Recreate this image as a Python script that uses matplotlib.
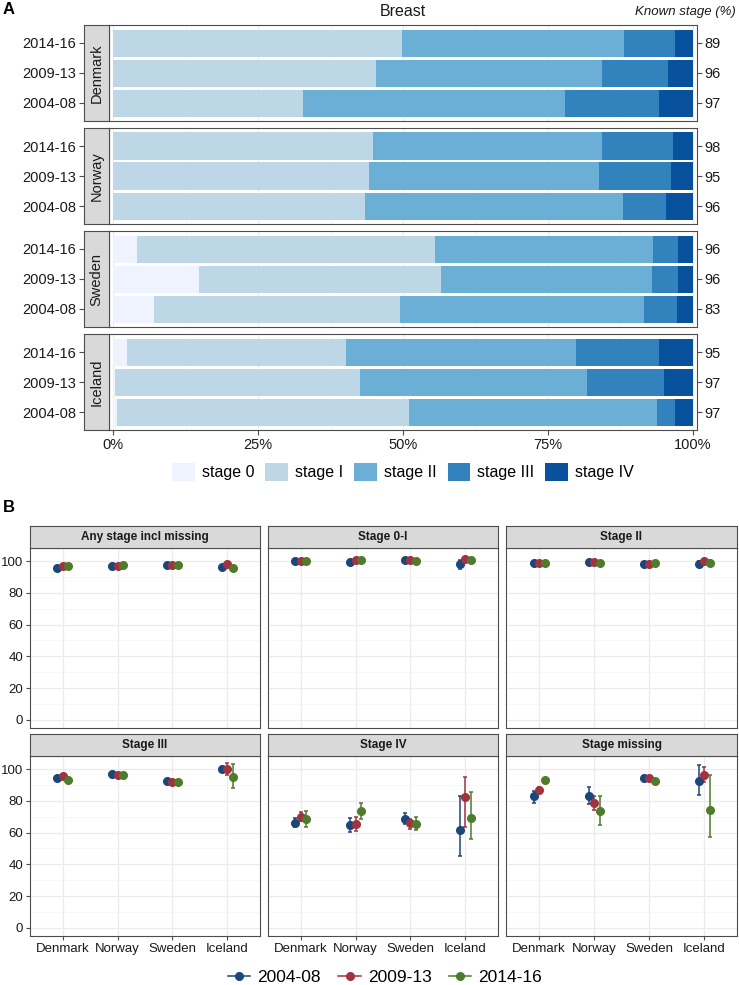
import numpy as np
import matplotlib
matplotlib.use('Agg')
import matplotlib.pyplot as plt
from matplotlib.patches import Patch
from matplotlib.lines import Line2D

plt.rcParams['font.family'] = ['Liberation Sans', 'DejaVu Sans']

W, H = 739, 985

years = ['2004-08', '2009-13', '2014-16']
countries = ['Denmark', 'Norway', 'Sweden', 'Iceland']
stages = ['stage 0', 'stage I', 'stage II', 'stage III', 'stage IV']
blues = ['#EFF3FF', '#BDD7E7', '#6BAED6', '#3182BD', '#08519C']

# panel A: stage distribution (%), rows = years 2004-08, 2009-13, 2014-16
denmark_share = [[0.0, 32.7, 45.2, 16.2, 5.9],
                 [0.0, 45.3, 39.0, 11.4, 4.3],
                 [0.0, 49.8, 38.3, 8.8, 3.1]]
norway_share = [[0.0, 43.4, 44.5, 7.5, 4.6],
                [0.0, 44.2, 39.6, 12.5, 3.7],
                [0.0, 44.9, 39.4, 12.2, 3.5]]
sweden_share = [[7.1, 42.4, 42.1, 5.6, 2.8],
                [14.8, 41.8, 36.4, 4.4, 2.6],
                [4.2, 51.3, 37.6, 4.3, 2.6]]
iceland_share = [[0.6, 50.5, 42.7, 3.1, 3.1],
                 [0.3, 42.2, 39.3, 13.2, 5.0],
                 [2.4, 37.7, 39.7, 14.3, 5.9]]
known_stage = {'Denmark': [97, 96, 89], 'Norway': [96, 95, 98],
               'Sweden': [83, 96, 96], 'Iceland': [97, 97, 95]}
shares = {'Denmark': denmark_share, 'Norway': norway_share,
          'Sweden': sweden_share, 'Iceland': iceland_share}

# panel B: estimate, lower, upper per country (rows) and period (cols)
facets = ['Any stage incl missing', 'Stage 0-I', 'Stage II',
          'Stage III', 'Stage IV', 'Stage missing']
any_est = [[95.4, 96.6, 96.8], [96.6, 96.6, 97.5], [97.3, 97.5, 97.7], [96.4, 98.3, 95.6]]
any_lo = [[94.9, 96.1, 96.3], [96.0, 96.0, 96.9], [97.0, 97.2, 97.4], [95.0, 97.0, 94.2]]
any_hi = [[95.9, 97.1, 97.3], [97.2, 97.2, 98.1], [97.6, 97.8, 98.0], [97.8, 99.6, 97.0]]
s0i_est = [[99.8, 100.0, 99.8], [99.6, 100.6, 100.6], [100.4, 100.4, 100.2], [97.9, 101.5, 100.4]]
s0i_lo = [[99.4, 99.6, 99.4], [99.1, 100.1, 100.2], [100.1, 100.1, 99.9], [95.0, 100.5, 99.5]]
s0i_hi = [[100.2, 100.4, 100.2], [100.1, 101.1, 101.0], [100.7, 100.7, 100.5], [100.5, 102.5, 101.3]]
s2_est = [[98.7, 98.9, 98.9], [99.2, 99.2, 98.7], [98.3, 98.3, 98.5], [98.3, 99.8, 98.7]]
s2_lo = [[98.2, 98.4, 98.4], [98.7, 98.7, 98.2], [97.9, 97.9, 98.1], [96.6, 98.6, 96.7]]
s2_hi = [[99.2, 99.4, 99.4], [99.7, 99.7, 99.2], [98.7, 98.7, 98.9], [100.0, 101.0, 100.7]]
s3_est = [[94.1, 95.8, 93.3], [96.8, 96.2, 96.2], [92.6, 92.0, 92.0], [100.0, 100.0, 95.2]]
s3_lo = [[93.0, 94.6, 92.3], [95.8, 95.1, 95.1], [91.6, 90.9, 90.9], [98.5, 96.4, 88.0]]
s3_hi = [[95.2, 97.0, 94.3], [97.8, 97.3, 97.3], [93.6, 93.1, 93.1], [101.5, 103.6, 103.2]]
s4_est = [[66.3, 70.1, 68.4], [64.6, 65.3, 73.3], [68.4, 65.9, 65.5], [61.5, 82.1, 69.1]]
s4_lo = [[63.8, 67.4, 63.6], [60.6, 61.1, 68.4], [65.1, 62.1, 61.7], [45.3, 63.2, 56.2]]
s4_hi = [[69.1, 73.1, 73.3], [69.1, 69.9, 78.3], [72.2, 68.8, 69.7], [82.9, 95.2, 85.3]]
miss_est = [[82.7, 86.7, 92.8], [83.2, 78.9, 73.5], [94.3, 94.1, 92.2], [92.6, 96.4, 74.3]]
miss_lo = [[78.5, 84.6, 91.8], [77.9, 74.3, 64.8], [93.2, 93.1, 90.5], [83.6, 92.0, 57.5]]
miss_hi = [[86.3, 88.8, 93.9], [88.4, 83.2, 82.7], [95.4, 95.1, 93.9], [102.7, 101.1, 96.0]]
facet_data = [(any_est, any_lo, any_hi), (s0i_est, s0i_lo, s0i_hi), (s2_est, s2_lo, s2_hi),
              (s3_est, s3_lo, s3_hi), (s4_est, s4_lo, s4_hi), (miss_est, miss_lo, miss_hi)]
period_colors = ['#1B4679', '#A3323F', '#4E7B2C']

TXT = '#1a1a1a'
BORDER = '#4d4d4d'


def box(x0, y0, x1, y1):
    return [x0 / W, 1 - y1 / H, (x1 - x0) / W, (y1 - y0) / H]


fig = plt.figure(figsize=(W / 100, H / 100), dpi=100)

# ---------- panel A ----------
ypos = np.array([1, 2, 3])
tops = [25, 128, 231, 334]
for i, c in enumerate(countries):
    t = tops[i]
    b = t + 96
    ax = fig.add_axes(box(109, t, 697, b))
    sax = fig.add_axes(box(84, t, 109, b))
    for v in [0, 25, 50, 75, 100]:
        ax.axvline(v, color='#EBEBEB', lw=0.8, zorder=0)
    for v in [12.5, 37.5, 62.5, 87.5]:
        ax.axvline(v, color='#F3F3F3', lw=0.5, zorder=0)
    vals = np.array(shares[c])
    left = np.zeros(3)
    for k in range(len(stages)):
        ax.barh(ypos, vals[:, k], left=left, height=0.9, color=blues[k], lw=0, zorder=2)
        left = left + vals[:, k]
    ax.set_xlim(-0.7, 100.7)
    ax.set_ylim(0.4, 3.6)
    ax.set_yticks(ypos)
    ax.set_yticklabels(known_stage[c])
    ax.tick_params(axis='y', left=False, labelleft=False, right=True, labelright=True,
                   length=3.5, pad=2, labelsize=10.5, color=BORDER, labelcolor=TXT)
    ax.set_xticks([0, 25, 50, 75, 100])
    if i == 3:
        ax.set_xticklabels(['0%', '25%', '50%', '75%', '100%'])
        ax.tick_params(axis='x', length=3.5, pad=2, labelsize=10.5, color=BORDER, labelcolor=TXT)
    else:
        ax.tick_params(axis='x', bottom=False, labelbottom=False)
    for s in ax.spines.values():
        s.set_color(BORDER)
        s.set_linewidth(0.8)

    sax.set_facecolor('#D9D9D9')
    sax.set_xlim(0, 1)
    sax.set_ylim(0.4, 3.6)
    sax.set_xticks([])
    sax.set_yticks(ypos)
    sax.set_yticklabels(years)
    sax.tick_params(axis='y', length=3.5, pad=2, labelsize=10.5, color=BORDER, labelcolor=TXT)
    sax.text(0.5, 2.0, c, rotation=90, ha='center', va='center', fontsize=10.5, color=TXT)
    for s in sax.spines.values():
        s.set_color(BORDER)
        s.set_linewidth(0.8)

fig.text(3 / W, 1 - 10 / H, 'A', fontsize=12, fontweight='bold', va='center', ha='left')
fig.text(403 / W, 1 - 12 / H, 'Breast', fontsize=11.5, va='center', ha='center', color=TXT)
fig.text(736 / W, 1 - 12 / H, 'Known stage (%)', fontsize=9.5, style='italic',
         va='center', ha='right', color=TXT)

handles_a = [Patch(facecolor=blues[k], edgecolor='none', label=stages[k]) for k in range(5)]
fig.legend(handles=handles_a, loc='center', bbox_to_anchor=(403 / W, 1 - 472 / H), ncol=5,
           frameon=False, fontsize=11.5, handlelength=1.4, handleheight=1.4,
           handletextpad=0.45, columnspacing=0.7, borderaxespad=0)

# ---------- panel B ----------
cols = [(30, 260), (268, 498), (506, 737)]
rows = [(526, 548, 728), (734, 756, 936)]
offsets = [-0.1, 0.0, 0.1]
xc = np.arange(1, 5)

for f, name in enumerate(facets):
    r, cc = divmod(f, 3)
    x0, x1 = cols[cc]
    st, pt, pb = rows[r]
    ax = fig.add_axes(box(x0, pt, x1, pb))
    sax = fig.add_axes(box(x0, st, x1, pt))
    for v in range(0, 101, 20):
        ax.axhline(v, color='#EBEBEB', lw=0.9, zorder=0)
    for v in range(10, 101, 20):
        ax.axhline(v, color='#F4F4F4', lw=0.5, zorder=0)
    for v in xc:
        ax.axvline(v, color='#EBEBEB', lw=0.9, zorder=0)
    est, lo, hi = [np.array(a) for a in facet_data[f]]
    for j in range(3):
        e = est[:, j]
        ax.errorbar(xc + offsets[j], e, yerr=[e - lo[:, j], hi[:, j] - e], fmt='o',
                    color=period_colors[j], ms=5.5, capsize=1.6, elinewidth=1.1,
                    capthick=1.1, zorder=3)
    ax.set_xlim(0.4, 4.6)
    ax.set_ylim(-5.15, 108.2)
    ax.set_yticks(range(0, 101, 20))
    ax.set_xticks(xc)
    if cc == 0:
        ax.tick_params(axis='y', length=3, pad=2, labelsize=9.5, color=BORDER, labelcolor=TXT)
    else:
        ax.tick_params(axis='y', left=False, labelleft=False)
    if r == 1:
        ax.set_xticklabels(countries)
        ax.tick_params(axis='x', length=3, pad=2, labelsize=9.5, color=BORDER, labelcolor=TXT)
    else:
        ax.tick_params(axis='x', bottom=False, labelbottom=False)
    for s in ax.spines.values():
        s.set_color(BORDER)
        s.set_linewidth(0.8)

    sax.set_facecolor('#D9D9D9')
    sax.set_xticks([])
    sax.set_yticks([])
    sax.text(0.5, 0.5, name, ha='center', va='center', fontsize=8.5,
             fontweight='bold', color=TXT, transform=sax.transAxes)
    for s in sax.spines.values():
        s.set_color(BORDER)
        s.set_linewidth(0.8)

fig.text(3 / W, 1 - 508 / H, 'B', fontsize=12, fontweight='bold', va='center', ha='left')

handles_b = [Line2D([0], [0], color=period_colors[j], marker='o', ms=5.5, lw=1.1, label=years[j])
             for j in range(3)]
fig.legend(handles=handles_b, loc='center', bbox_to_anchor=(385 / W, 1 - 977 / H), ncol=3,
           frameon=False, fontsize=12.5, handlelength=1.3, handletextpad=0.4,
           columnspacing=1.0, borderaxespad=0)

fig.savefig('out.png', dpi=100)
